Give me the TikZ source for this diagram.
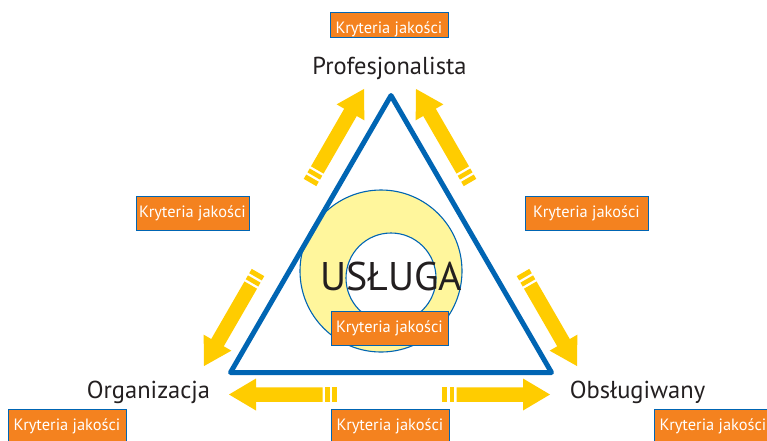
\documentclass[tikz,border=0pt]{standalone}
\usepackage{fontspec}
\setmainfont{PT Sans}
\definecolor{tblue}{RGB}{0,101,179}
\definecolor{yel}{RGB}{255,204,0}
\definecolor{ringfill}{RGB}{255,246,156}
\definecolor{korange}{RGB}{244,130,31}
\definecolor{tdark}{RGB}{35,31,32}
\begin{document}
\begin{tikzpicture}[x=1pt,y=-1pt,
  kbox/.style={draw=tblue, line width=1pt, fill=korange, text=white, inner sep=0pt,
    font=\fontsize{16.4}{19}\selectfont},
  lbl/.style={text=tdark, inner sep=0pt, font=\fontsize{24.5}{28}\selectfont},
  tri/.style={draw=tblue, line width=5pt, line join=round},
  ring/.style={draw=tblue, line width=1.1pt, circle, inner sep=0pt},
  pics/yarrow/.style={code={
    \fill[yel] (0pt,-7.25pt) rectangle (5pt,7.25pt);
    \fill[yel] (7.5pt,-7.25pt) rectangle (12pt,7.25pt);
    \fill[yel] (14.5pt,-7.25pt) -- (81pt,-7.25pt) -- (81pt,-16pt) -- (108pt,0pt)
      -- (81pt,16pt) -- (81pt,7.25pt) -- (14.5pt,7.25pt) -- cycle;
  }}]
\useasboundingbox (0,0) rectangle (767,440);
\fill[white] (0,0) rectangle (767,440);

% arrows
\pic[rotate=60]  at (310,182.5) {yarrow};
\pic[rotate=120] at (470,182.5) {yarrow};
\pic[rotate=240] at (258,272.5) {yarrow};
\pic[rotate=300] at (523,272.5) {yarrow};
\pic[rotate=180] at (337,394.5) {yarrow};
\pic[rotate=0]   at (442,394.5) {yarrow};

% rings
\node[ring, fill=ringfill, minimum size=162pt] (outer) at (381,271) {};
\node[ring, fill=white, minimum size=90pt] (inner) at (391,278) {};

% triangle
\coordinate (A) at (391,95.5);
\coordinate (B) at (230.5,372.5);
\coordinate (C) at (551.5,372.5);
\draw[tri] (A) -- (B) -- (C) -- cycle;

% texts
\node[text=tdark, inner sep=0pt, font=\fontsize{40}{44}\selectfont] (usl) at (391,276) {USŁUGA};
\node[lbl] (prof) at (389.5,68) {Profesjonalista};
\node[lbl] (org) at (148.5,392) {Organizacja};
\node[lbl] (obs) at (637.5,392) {Obsługiwany};

% boxes
\node[kbox, minimum width=118pt, text height=21.5pt, text depth=3.5pt] (kt) at (389,24.8) {Kryteria jakości};
\node[kbox, minimum width=113pt, minimum height=34pt] (kl) at (192.5,213.5) {Kryteria jakości};
\node[kbox, minimum width=123pt, minimum height=34pt] (kr) at (586.5,213) {Kryteria jakości};
\node[kbox, minimum width=117pt, minimum height=34pt] (kc) at (389.5,328) {Kryteria jakości};
\node[kbox, minimum width=118pt, minimum height=34pt] (kbl) at (67,426) {Kryteria jakości};
\node[kbox, minimum width=118pt, minimum height=34pt] (kbc) at (390,426) {Kryteria jakości};
\node[kbox, minimum width=118pt, minimum height=34pt] (kbr) at (713,426) {Kryteria jakości};
\end{tikzpicture}
\end{document}
